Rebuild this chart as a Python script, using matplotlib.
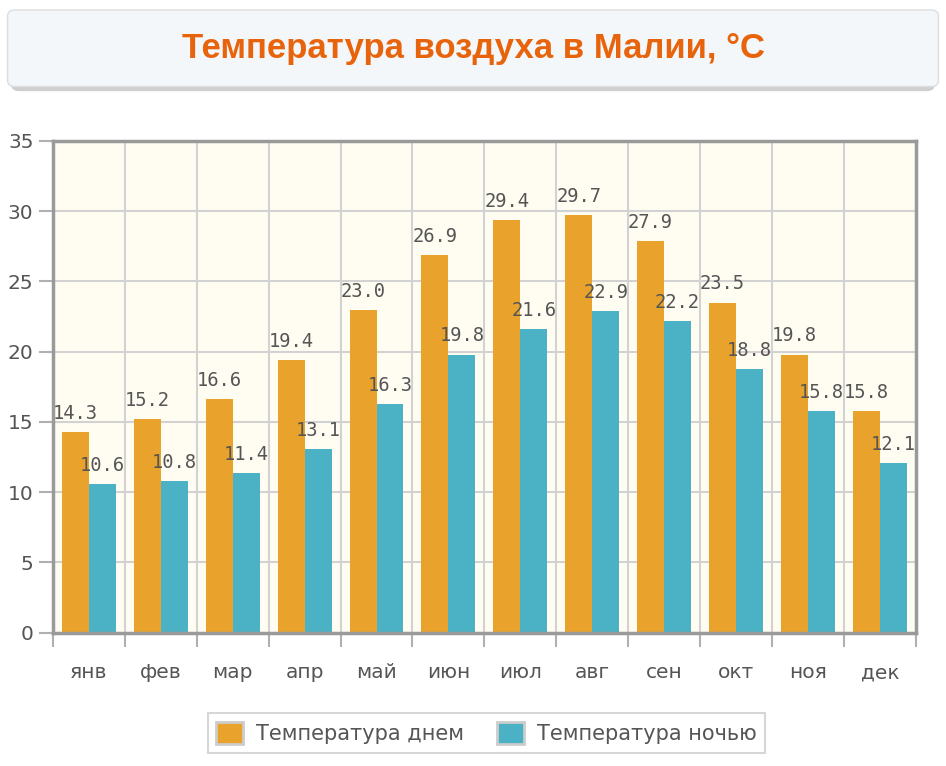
import matplotlib
matplotlib.use("Agg")
from matplotlib import pyplot as plt
from matplotlib.patches import FancyBboxPatch, Patch
import numpy as np

months = ["янв", "фев", "мар", "апр", "май", "июн", "июл", "авг", "сен", "окт", "ноя", "дек"]
day_temp = [14.3, 15.2, 16.6, 19.4, 23.0, 26.9, 29.4, 29.7, 27.9, 23.5, 19.8, 15.8]
night_temp = [10.6, 10.8, 11.4, 13.1, 16.3, 19.8, 21.6, 22.9, 22.2, 18.8, 15.8, 12.1]
y_ticks = [0, 5, 10, 15, 20, 25, 30, 35]

orange = "#E9A22B"
teal = "#4BB1C4"
text_gray = "#555555"
axis_gray = "#9a9a9a"

fig = plt.figure(figsize=(9.46, 7.66), dpi=100)
fig.patch.set_facecolor("white")

# title box
box = FancyBboxPatch((0.012, 0.881), 0.976, 0.103, boxstyle="round,pad=0,rounding_size=0.008",
                     transform=fig.transFigure, facecolor="#cfcfcf", edgecolor="none")
fig.patches.append(box)
box2 = FancyBboxPatch((0.008, 0.887), 0.984, 0.100, boxstyle="round,pad=0,rounding_size=0.008",
                      transform=fig.transFigure, facecolor="#f3f7fa", edgecolor="#dddddd", lw=1)
fig.patches.append(box2)
fig.text(0.5, 0.937, "Температура воздуха в Малии, °C", ha="center", va="center",
         fontsize=25, fontweight="bold", color="#E8640C", family="Liberation Sans")

ax = fig.add_axes([0.056, 0.174, 0.912, 0.642])
ax.set_facecolor("#FFFCF2")

x = np.arange(len(months))
w = 0.375
ax.bar(x - w / 2, day_temp, width=w, color=orange, zorder=3)
ax.bar(x + w / 2, night_temp, width=w, color=teal, zorder=3)

for i in range(len(months)):
    ax.annotate(f"{day_temp[i]:.1f}", (x[i] - w / 2, day_temp[i]), xytext=(0, 6.5),
                textcoords="offset points", ha="center", va="bottom", fontsize=13.5,
                color=text_gray, family="DejaVu Sans Mono", zorder=5)
    ax.annotate(f"{night_temp[i]:.1f}", (x[i] + w / 2, night_temp[i]), xytext=(0, 6.5),
                textcoords="offset points", ha="center", va="bottom", fontsize=13.5,
                color=text_gray, family="DejaVu Sans Mono", zorder=5)

ax.set_xlim(-0.5, len(months) - 0.5)
ax.set_ylim(0, 35)
ax.set_yticks(y_ticks)
ax.set_xticks(x)
ax.set_xticklabels(months)
ax.set_xticks(np.arange(-0.5, len(months)), minor=True)

ax.grid(True, which="minor", axis="x", color="#d2d2d2", lw=1.5, zorder=1)
ax.grid(True, which="major", axis="y", color="#d2d2d2", lw=1.5, zorder=1)
ax.tick_params(axis="x", which="major", length=0, pad=22, labelsize=14.5, labelcolor=text_gray)
ax.tick_params(axis="x", which="minor", length=10, width=1.5, color="#b0b0b0")
ax.tick_params(axis="y", length=10, width=1.5, color="#b0b0b0", labelsize=14.5,
               labelcolor=text_gray, pad=4)

for s in ax.spines.values():
    s.set_color(axis_gray)
    s.set_linewidth(2.5)
    s.set_zorder(4)

handles = [Patch(facecolor=orange, edgecolor="#cccccc", lw=2),
           Patch(facecolor=teal, edgecolor="#cccccc", lw=2)]
leg = fig.legend(handles, ["Температура днем", "Температура ночью"], loc="center",
                 bbox_to_anchor=(0.514, 0.043), ncol=2, fontsize=15, frameon=True,
                 fancybox=False, edgecolor="#cccccc", handlelength=1.3, handleheight=1.3,
                 columnspacing=1.6, borderpad=0.4, handletextpad=0.6)
leg.get_frame().set_linewidth(1.5)
for t in leg.get_texts():
    t.set_color(text_gray)

fig.savefig("out.png", dpi=100)
